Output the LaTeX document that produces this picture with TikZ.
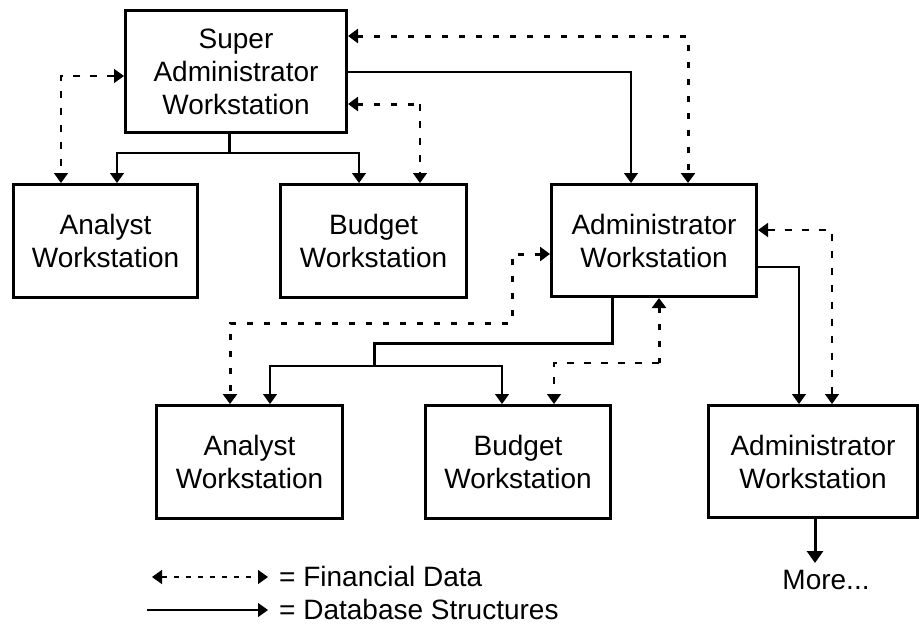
\documentclass[tikz,border=0pt]{standalone}
\usepackage{fontspec}
\setmainfont{Liberation Sans}
\usetikzlibrary{arrows.meta}
\begin{document}
\begin{tikzpicture}[x=1pt,y=-1pt,
  box/.style={draw,line width=3pt,rectangle,anchor=north west,inner sep=0pt,align=center,
    font=\fontsize{28}{33}\selectfont},
  tip/.style={-{Triangle[width=14pt,length=10pt]}},
  tipb/.style={{Triangle[width=14pt,length=10pt]}-{Triangle[width=14pt,length=10pt]}},
  tips/.style={{Triangle[width=14pt,length=10pt]}-},
  db/.style={line width=1.2pt},
  thk/.style={line width=3pt},
  fdthin/.style={line width=1.5pt,dash pattern=on 7pt off 10pt},
  fdthick/.style={line width=3pt,dash pattern=on 6pt off 11pt},
  lbl/.style={font=\fontsize{28}{33}\selectfont,inner sep=0pt}]
\useasboundingbox (0,0) rectangle (919,625);
% boxes
\node[box,minimum width=221pt,minimum height=122pt] (sa) at (124,9) {Super\\Administrator\\Workstation};
\node[box,minimum width=184pt,minimum height=113pt] (an1) at (12,183) {Analyst\\Workstation};
\node[box,minimum width=186pt,minimum height=113pt] (bu1) at (279,183) {Budget\\Workstation};
\node[box,minimum width=205pt,minimum height=112pt] (ad1) at (550,183) {Administrator\\Workstation};
\node[box,minimum width=186pt,minimum height=113pt] (an2) at (155,404) {Analyst\\Workstation};
\node[box,minimum width=185pt,minimum height=113pt] (bu2) at (424,404) {Budget\\Workstation};
\node[box,minimum width=209pt,minimum height=112pt] (ad2) at (707,404) {Administrator\\Workstation};
\node[lbl] (more) at (826,580) {More...};
% super admin tree
\coordinate (j1) at (229,153);
\draw[thk] (sa.south -| j1) -- (j1);
\draw[db,tip] (j1) -| (an1.north -| 117,0);
\draw[db,tip] (j1) -| (bu1.north -| 359,0);
% super <-> analyst1
\draw[fdthin,tipb] (sa.west |- 0,76) -| (an1.north -| 61,0);
% super <-> budget1
\coordinate (c1) at (420,104);
\draw[fdthick,tips] (sa.east |- c1) -- (c1);
\draw[fdthin,tip] (c1) -- (bu1.north -| c1);
% super <-> admin
\draw[fdthick,tipb] (sa.east |- 0,36) -| (ad1.north -| 688,0);
% super -> admin
\draw[db,tip] (sa.east |- 0,72) -| (ad1.north -| 631,0);
% admin tree
\coordinate (j2) at (374,343);
\coordinate (j3) at (374,366);
\draw[thk] (ad1.south -| 612,0) |- (j2) -- (j3);
\draw[db,tip] (j3) -| (an2.north -| 270,0);
\draw[db,tip] (j3) -| (bu2.north -| 502,0);
% admin <-> analyst2
\coordinate (c2) at (512,323);
\draw[fdthick,tipb] (ad1.west |- 0,254) -| (c2) -| (an2.north -| 230,0);
% admin <-> budget2
\coordinate (c3) at (659,363);
\draw[fdthick,tips] (ad1.south -| c3) -- (c3);
\draw[fdthin,tip] (c3) -| (bu2.north -| 554,0);
% admin -> admin2
\draw[db,tip] (ad1.east |- 0,267) -| (ad2.north -| 799,0);
% admin <-> admin2
\draw[fdthin,tipb] (ad1.east |- 0,230) -| (ad2.north -| 832,0);
% admin2 -> more
\coordinate (m) at (815,563);
\draw[thk,-{Triangle[width=16pt,length=12pt]}] (ad2.south -| m) -- (m);
% legend
\coordinate (l1a) at (152,577);
\coordinate (l1b) at (268,577);
\coordinate (l2a) at (147,610);
\coordinate (l2b) at (268,610);
\draw[fdthin,dash pattern=on 5pt off 7pt,tipb] (l1a) -- (l1b);
\draw[db,tip] (l2a) -- (l2b);
\node[lbl,anchor=west] (t1) at (279,576) {= Financial Data};
\node[lbl,anchor=west] (t2) at (279,609) {= Database Structures};
\end{tikzpicture}
\end{document}
